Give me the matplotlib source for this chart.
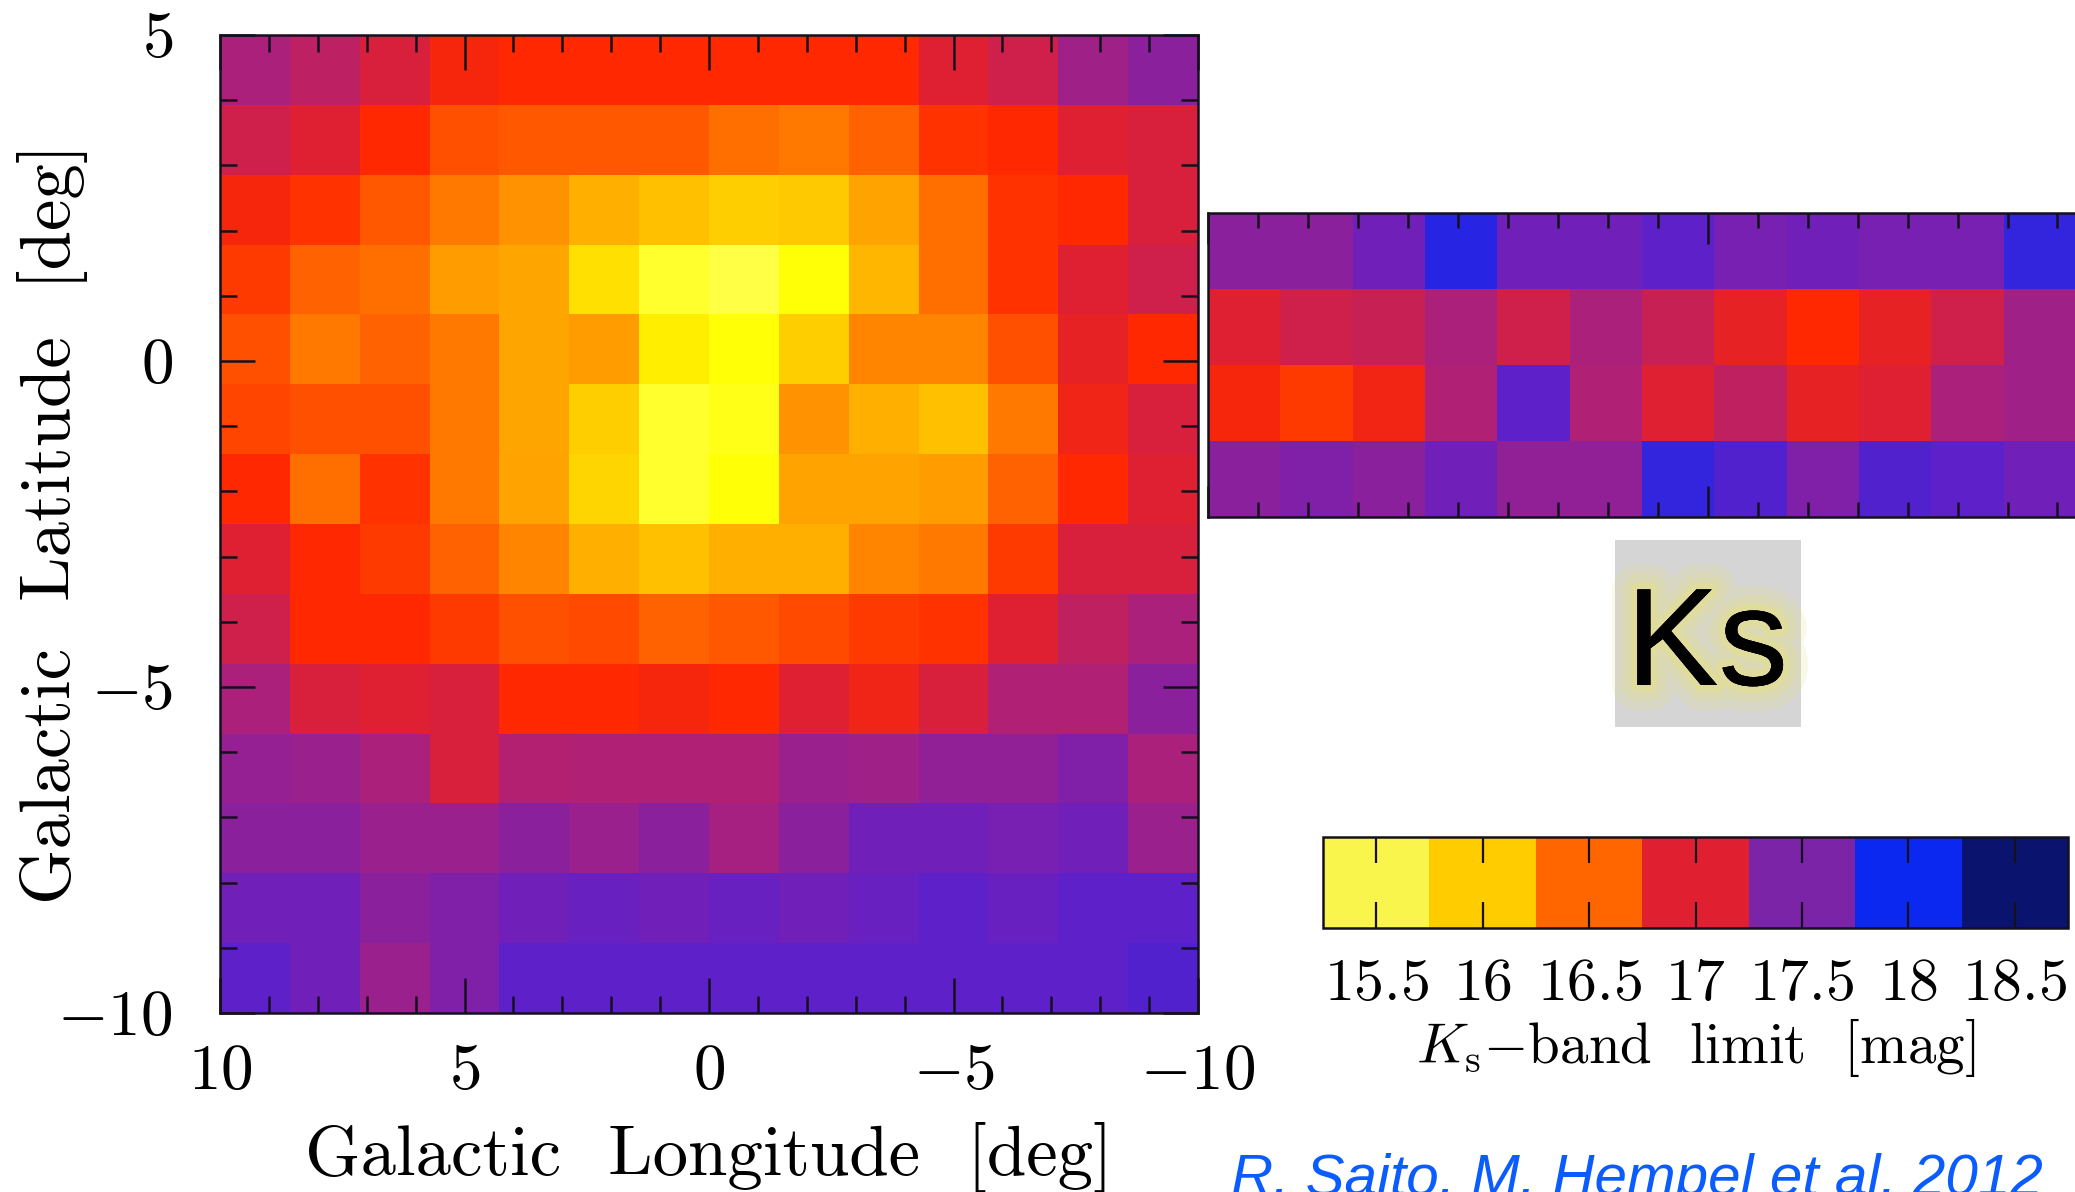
import numpy as np
import matplotlib
matplotlib.use('Agg')
import matplotlib.pyplot as plt
import matplotlib.patheffects as pe
from matplotlib.colors import LinearSegmentedColormap, ListedColormap, BoundaryNorm, Normalize
from matplotlib.ticker import MultipleLocator
from matplotlib.patches import Rectangle
from matplotlib.cm import ScalarMappable

plt.rcParams['mathtext.fontset'] = 'cm'
plt.rcParams['font.family'] = 'cmr10'
plt.rcParams['axes.unicode_minus'] = False

# VVV bulge tiles, 14 x 14: rows from b=+5 (top) down to b=-10, columns from l=+10 to l=-10
bulge_lon_edges = np.linspace(10, -10, 15)
bulge_lat_edges = np.linspace(5, -10, 15)
bulge_ks = [
    [17.30, 17.20, 17.05, 16.85, 16.80, 16.80, 16.80, 16.80, 16.80, 16.80, 17.00, 17.10, 17.35, 17.45],
    [17.10, 17.00, 16.80, 16.60, 16.55, 16.55, 16.55, 16.45, 16.40, 16.50, 16.75, 16.80, 17.00, 17.05],
    [16.85, 16.75, 16.55, 16.40, 16.30, 16.15, 16.05, 15.95, 16.00, 16.22, 16.45, 16.75, 16.80, 17.05],
    [16.70, 16.50, 16.45, 16.25, 16.20, 15.80, 15.45, 15.40, 15.55, 16.10, 16.45, 16.75, 17.00, 17.10],
    [16.60, 16.40, 16.50, 16.40, 16.20, 16.25, 15.70, 15.55, 15.95, 16.35, 16.35, 16.60, 16.95, 16.80],
    [16.65, 16.60, 16.60, 16.40, 16.20, 15.95, 15.45, 15.50, 16.30, 16.15, 16.05, 16.40, 16.90, 17.05],
    [16.80, 16.45, 16.75, 16.40, 16.22, 15.90, 15.45, 15.55, 16.22, 16.22, 16.25, 16.50, 16.80, 17.00],
    [17.00, 16.80, 16.70, 16.50, 16.35, 16.15, 16.05, 16.15, 16.15, 16.35, 16.40, 16.70, 17.05, 17.05],
    [17.10, 16.80, 16.80, 16.70, 16.60, 16.62, 16.50, 16.55, 16.62, 16.70, 16.75, 17.00, 17.18, 17.30],
    [17.30, 17.05, 17.00, 17.05, 16.80, 16.80, 16.85, 16.80, 17.00, 16.90, 17.05, 17.27, 17.27, 17.45],
    [17.40, 17.38, 17.30, 17.05, 17.25, 17.27, 17.27, 17.27, 17.38, 17.35, 17.42, 17.42, 17.50, 17.30],
    [17.45, 17.45, 17.38, 17.38, 17.45, 17.38, 17.45, 17.32, 17.45, 17.60, 17.60, 17.55, 17.60, 17.38],
    [17.60, 17.60, 17.45, 17.50, 17.60, 17.65, 17.60, 17.65, 17.60, 17.65, 17.70, 17.65, 17.70, 17.70],
    [17.70, 17.60, 17.38, 17.50, 17.70, 17.70, 17.70, 17.70, 17.70, 17.70, 17.70, 17.70, 17.70, 17.75],
]

# VVV disk tiles (first 12 columns from l=-10 going west), 4 rows from b=+2.25 to b=-2.25
disk_lon_edges = -10 - np.arange(13) * 55 / 38
disk_lat_edges = np.linspace(2.25, -2.25, 5)
disk_ks = [
    [17.45, 17.45, 17.60, 17.90, 17.60, 17.60, 17.70, 17.55, 17.60, 17.55, 17.55, 17.85],
    [17.00, 17.10, 17.15, 17.30, 17.10, 17.30, 17.15, 16.95, 16.80, 16.95, 17.10, 17.35],
    [16.85, 16.70, 16.88, 17.27, 17.70, 17.27, 17.00, 17.18, 16.95, 17.00, 17.30, 17.35],
    [17.45, 17.50, 17.45, 17.60, 17.42, 17.42, 17.85, 17.75, 17.50, 17.75, 17.70, 17.60],
]

lon_ticks = [10, 5, 0, -5, -10]
lat_ticks = [5, 0, -5, -10]
ks_levels = [15.5, 16.0, 16.5, 17.0, 17.5, 18.0, 18.5]
ks_level_labels = ['15.5', '16', '16.5', '17', '17.5', '18', '18.5']

# continuous map for the tiles, discrete one for the colour bar
vmin, vmax = 15.25, 18.75
anchors = [(15.25, '#ffff80'), (15.55, '#ffff00'), (15.8, '#ffe000'), (16.0, '#ffc800'),
           (16.25, '#ff9c00'), (16.5, '#ff6200'), (16.8, '#ff2800'), (17.0, '#e02030'),
           (17.25, '#b42070'), (17.5, '#8020a8'), (17.7, '#6020c8'), (18.0, '#0a28f0'),
           (18.5, '#0a146e'), (18.75, '#080e58')]
cmap = LinearSegmentedColormap.from_list('ks', [((v - vmin) / (vmax - vmin), c) for v, c in anchors])
norm = Normalize(vmin, vmax)
cbar_colors = ['#faf54c', '#ffcc00', '#ff6600', '#e02030', '#7b24a8', '#0a28f0', '#0a146e']

W, H = 2075, 1192
fig = plt.figure(figsize=(W / 100, H / 100), dpi=100)
fig.patch.set_facecolor('white')


def box(x0, y0, x1, y1):
    # pixel box (origin top-left) -> figure fraction rect
    return [x0 / W, 1 - y1 / H, (x1 - x0) / W, (y1 - y0) / H]


spine_c = '#15101e'

# main bulge map
ax = fig.add_axes(box(220, 35, 1198, 1013))
ax.pcolormesh(bulge_lon_edges, bulge_lat_edges, np.array(bulge_ks), cmap=cmap, norm=norm,
              shading='flat', antialiased=False)
ax.set_xlim(10, -10)
ax.set_ylim(-10, 5)
ax.set_xticks(lon_ticks)
ax.set_xticklabels([f'${v}$' for v in lon_ticks])
ax.set_yticks(lat_ticks)
ax.set_yticklabels([f'${v}$' for v in lat_ticks])
ax.xaxis.set_minor_locator(MultipleLocator(1))
ax.yaxis.set_minor_locator(MultipleLocator(1))
ax.tick_params(which='both', direction='in', top=True, right=True, width=1.8, color=spine_c)
ax.tick_params(which='major', length=25, labelsize=47)
ax.tick_params(which='minor', length=12)
ax.tick_params(axis='x', pad=22)
ax.tick_params(axis='y', pad=34)
for s in ax.spines.values():
    s.set_linewidth(1.8)
    s.set_color(spine_c)
ax.set_xlabel('Galactic  Longitude  [deg]', fontsize=51, va='baseline')
ax.xaxis.set_label_coords(0.5, (1013 - 1175) / 978)
ax.set_ylabel('Galactic  Latitude  [deg]', fontsize=51, va='baseline')
ax.yaxis.set_label_coords((70 - 220) / 978, 0.5)

# disk strip (runs off the right edge)
deg_px = 49.97
ax2 = fig.add_axes(box(1208, 213, 1208 + 20 * deg_px, 517))
ax2.pcolormesh(disk_lon_edges, disk_lat_edges, np.array(disk_ks), cmap=cmap, norm=norm,
               shading='flat', antialiased=False)
ax2.set_xlim(-10, -30)
ax2.set_ylim(-2.25, 2.25)
ax2.set_yticks([])
ax2.xaxis.set_major_locator(MultipleLocator(10))
ax2.xaxis.set_minor_locator(MultipleLocator(1))
ax2.tick_params(axis='x', which='both', direction='in', top=True, bottom=True,
                labelbottom=False, width=1.8, color=spine_c)
ax2.tick_params(axis='x', which='major', length=22)
ax2.tick_params(axis='x', which='minor', length=11)
for s in ax2.spines.values():
    s.set_linewidth(1.8)
    s.set_color(spine_c)

# colour bar
cax = fig.add_axes(box(1323, 837, 2068, 928))
bounds = [v - 0.25 for v in ks_levels] + [ks_levels[-1] + 0.25]
sm = ScalarMappable(norm=BoundaryNorm(bounds, len(cbar_colors)), cmap=ListedColormap(cbar_colors))
cb = fig.colorbar(sm, cax=cax, orientation='horizontal', ticks=ks_levels)
cb.set_ticklabels([f'${t}$' for t in ks_level_labels])
cb.minorticks_off()
cb.outline.set_linewidth(1.8)
cb.outline.set_edgecolor(spine_c)
cax.tick_params(direction='in', top=True, bottom=True, length=19, width=1.6,
                color=spine_c, labelsize=43, pad=22)
cax.set_xlabel(r'$K_{\rm s}{-}$band  limit  [mag]', fontsize=41, va='baseline')
cax.xaxis.set_label_coords(0.5, (928 - 1063) / 91)

# "Ks" label box
fig.add_artist(Rectangle((1615 / W, 1 - 727 / H), 186 / W, 187 / H, transform=fig.transFigure,
                         facecolor='#d5d5d5', edgecolor='none'))
glow = [pe.withStroke(linewidth=36, foreground='#e8e27a', alpha=0.18),
        pe.withStroke(linewidth=22, foreground='#e8e27a', alpha=0.22),
        pe.withStroke(linewidth=10, foreground='#ebe470', alpha=0.3),
        pe.Normal()]
fig.text(1707 / W, 1 - 685 / H, 'Ks', family='Liberation Sans', fontsize=100,
         ha='center', va='baseline', color='black', path_effects=glow)

# citation, cut off by the bottom edge as in the slide
fig.text(1231 / W, 1 - 1195 / H, 'R. Saito, M. Hempel et al. 2012', family='Liberation Sans',
         style='italic', fontsize=42, color='#0b5cff', ha='left', va='baseline')

fig.savefig('out.png', dpi=100)
